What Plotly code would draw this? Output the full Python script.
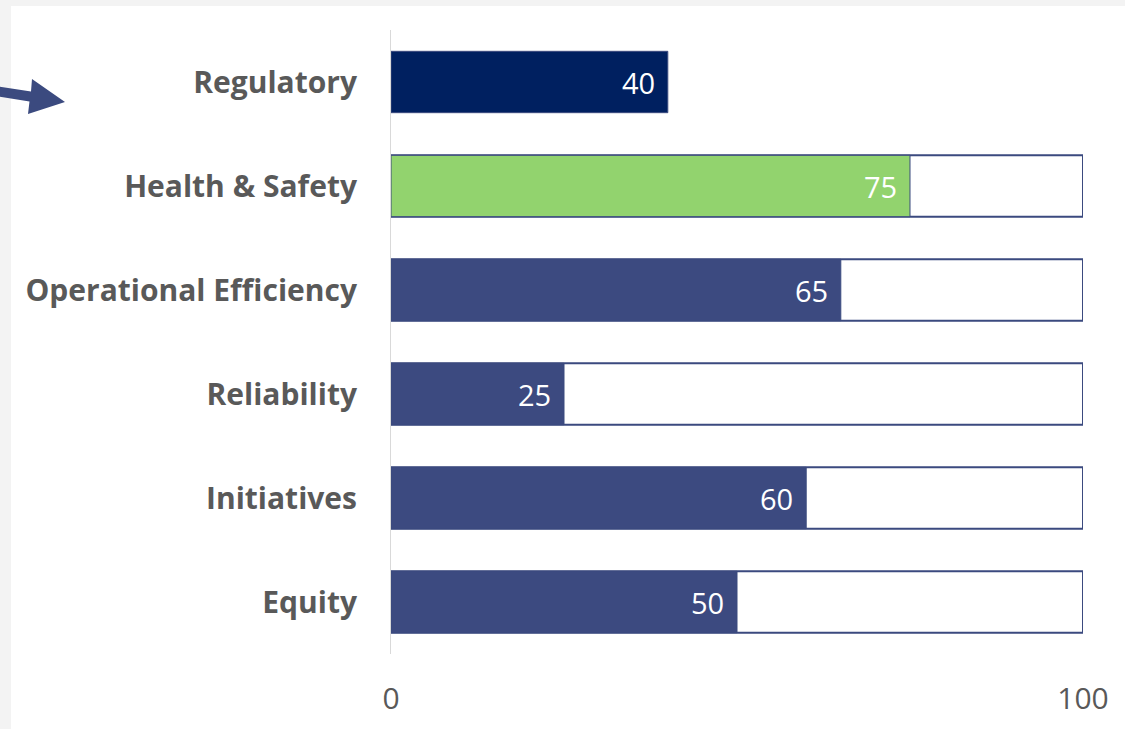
import plotly.graph_objects as go

categories = ["Regulatory", "Health & Safety", "Operational Efficiency",
              "Reliability", "Initiatives", "Equity"]
scores = [40, 75, 65, 25, 60, 50]
capacity = [None, 100, 100, 100, 100, 100]
bar_colors = ["#002060", "#92d36e", "#3c4a80", "#3c4a80", "#3c4a80", "#3c4a80"]
x_ticks = [0, 100]

W, H = 1125, 729
L, R, T, B = 391, 1083, 30, 654


def px(x):
    return (x - L) / (R - L)


def py(y):
    return (B - y) / (B - T)


fig = go.Figure()

fig.add_trace(go.Bar(
    y=categories, x=capacity, orientation="h", width=0.59,
    marker=dict(color="white", line=dict(color="#3b4a7f", width=2)),
    hoverinfo="skip", showlegend=False,
))
fig.add_trace(go.Bar(
    y=categories, x=scores, orientation="h", width=0.59,
    marker=dict(color=bar_colors, line=dict(color="#3b4a7f", width=1)),
    showlegend=False,
))

for c, v in zip(categories, scores):
    fig.add_annotation(x=v, y=c, xref="x", yref="y", text=str(v),
                       showarrow=False, xanchor="right", xshift=-11,
                       font=dict(family="Open Sans", size=29, color="white"))

# white panel on gray frame
fig.add_shape(type="rect", xref="paper", yref="paper", layer="below",
              x0=px(11), x1=px(W + 5), y0=py(H + 5), y1=py(6),
              fillcolor="white", line=dict(width=0))

# arrow
pts = [(-5, 86), (31, 91.5), (32, 79), (65, 102), (28, 114), (29.5, 101.5), (-5, 96)]
path = "M " + " L ".join(f"{px(a):.5f},{py(b):.5f}" for a, b in pts) + " Z"
fig.add_shape(type="path", xref="paper", yref="paper", path=path,
              fillcolor="#3b4a7f", line=dict(width=0))

fig.update_layout(
    width=W, height=H,
    margin=dict(l=L, r=W - R, t=T, b=H - B, pad=0, autoexpand=False),
    paper_bgcolor="#f3f3f3", plot_bgcolor="rgba(0,0,0,0)",
    barmode="overlay",
    xaxis=dict(range=[0, 100], tickvals=x_ticks, showgrid=False, zeroline=False,
               showline=False, ticks="", ticklabelstandoff=24, automargin=False,
               tickfont=dict(family="Open Sans", size=30, color="#595959")),
    yaxis=dict(range=[5.5, -0.5], showgrid=False, zeroline=False,
               showline=True, linecolor="#d9d9d9", linewidth=1, ticks="",
               ticklabelstandoff=27, automargin=False,
               tickfont=dict(family="Open Sans", size=30, color="#595959",
                             weight="bold")),
)

fig.write_html("out.html",
               config={"displayModeBar": False},
               post_script="document.body.style.margin='0';"
                           "document.body.style.overflow='hidden';")
